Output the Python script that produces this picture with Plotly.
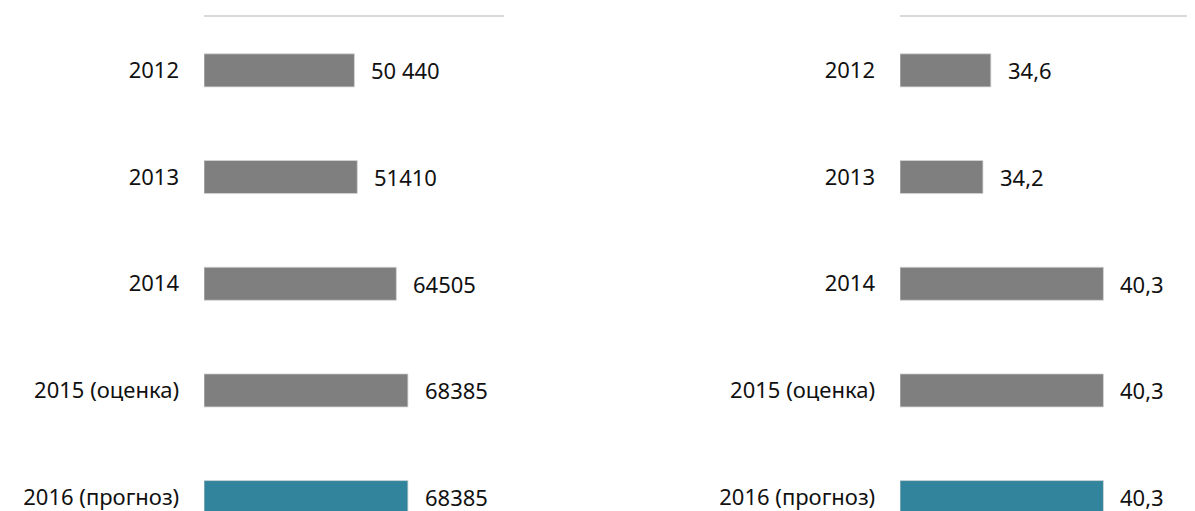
import plotly.graph_objects as go
from plotly.subplots import make_subplots

# categories (top to bottom)
years = ["2012", "2013", "2014", "2015 (оценка)", "2016 (прогноз)"]

# left panel
left_values = [50440, 51410, 64505, 68385, 68385]
left_labels = ["50 440", "51410", "64505", "68385", "68385"]

# right panel (axis starts at 30)
right_values = [34.6, 34.2, 40.3, 40.3, 40.3]
right_labels = ["34,6", "34,2", "40,3", "40,3", "40,3"]
right_base = 30

bar_colors = ["#7f7f7f", "#7f7f7f", "#7f7f7f", "#7f7f7f", "#31849b"]

FONT = "Noto Sans"
W, H = 1195, 511
OFF = 8  # page body margin offsets the figure

fig = make_subplots(rows=1, cols=2)

fig.add_trace(go.Bar(
    x=left_values, y=years, orientation="h",
    marker=dict(color=bar_colors, line=dict(color="#d6d6d6", width=0.8)),
    width=0.31, hoverinfo="skip"
), row=1, col=1)

fig.add_trace(go.Bar(
    x=[v - right_base for v in right_values], y=years, orientation="h",
    base=right_base,
    marker=dict(color=bar_colors, line=dict(color="#d6d6d6", width=0.8)),
    width=0.31, hoverinfo="skip"
), row=1, col=2)

# value labels right of each bar
for i, (v, t) in enumerate(zip(left_values, left_labels)):
    fig.add_annotation(x=v, y=i, xref="x", yref="y", text=t, showarrow=False,
                       xanchor="left", xshift=15,
                       font=dict(family=FONT, size=22, color="#111111"))
for i, (v, t) in enumerate(zip(right_values, right_labels)):
    fig.add_annotation(x=v, y=i, xref="x2", yref="y2", text=t, showarrow=False,
                       xanchor="left", xshift=15,
                       font=dict(family=FONT, size=22, color="#111111"))

axis_common = dict(showgrid=False, zeroline=False, showticklabels=False,
                   showline=True, linecolor="#d9d9d9", linewidth=1.5,
                   side="top", ticks="", fixedrange=True, automargin=False)
fig.update_xaxes(axis_common)
fig.update_xaxes(range=[0, 100600],
                 domain=[(204 - OFF) / W, (504 - OFF) / W], row=1, col=1)
fig.update_xaxes(range=[30, 45.34], domain=[(900 - OFF) / W, 1.0], row=1, col=2)

fig.update_yaxes(categoryorder="array", categoryarray=years,
                 range=[4.205, -0.5], showgrid=False, zeroline=False,
                 showline=False, ticks="", ticklabelstandoff=24,
                 automargin=False,
                 tickfont=dict(family=FONT, size=22, color="#111111"),
                 fixedrange=True)

fig.update_layout(
    width=W, height=H,
    margin=dict(l=0, r=0, t=17 - OFF, b=0, pad=0),
    paper_bgcolor="white", plot_bgcolor="white",
    showlegend=False,
    font=dict(family=FONT, size=22, color="#111111"),
)

fig.write_html("out.html")
